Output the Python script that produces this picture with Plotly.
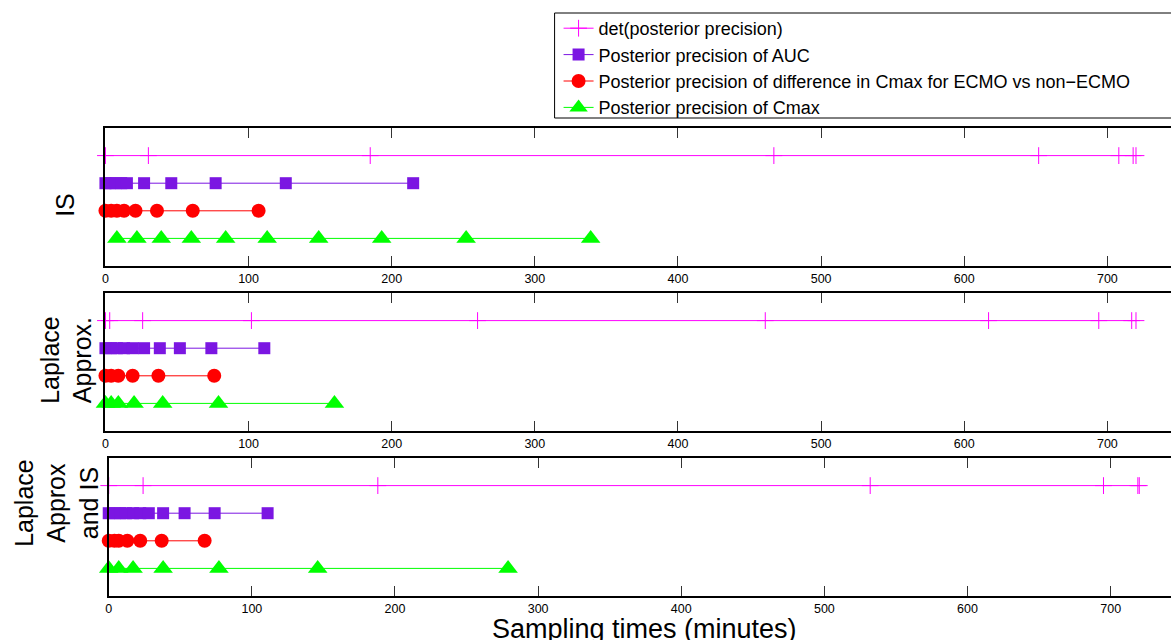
import plotly.graph_objects as go

# ---------------- data (sampling times, minutes) ----------------
series_names = [
    "det(posterior precision)",
    "Posterior precision of AUC",
    "Posterior precision of difference in Cmax for ECMO vs non\u2212ECMO",
    "Posterior precision of Cmax",
]
series_rows = [4, 3, 2, 1]
panel_labels = ["IS", "Laplace<br>Approx.", "Laplace<br>Approx<br>and IS"]

det_is = [0, 30, 185, 467, 652, 708, 718, 720]
auc_is = [0, 3, 7, 11, 15, 27, 46, 77, 126, 215]
diff_is = [0, 4, 8, 13, 21, 36, 61, 107]
cmax_is = [8, 22, 39, 60, 84, 113, 149, 193, 252, 339]

det_la = [0, 3, 26, 102, 260, 461, 617, 694, 717, 720]
auc_la = [0, 4, 8, 13, 19, 27, 38, 52, 74, 111]
diff_la = [0, 4, 9, 19, 37, 76]
cmax_la = [0, 4, 9, 20, 40, 79, 160]

det_lais = [0, 24, 188, 532, 695, 719, 720]
auc_lais = [0, 4, 8, 12, 17, 22, 28, 38, 53, 74, 111]
diff_lais = [0, 4, 7, 13, 22, 37, 67]
cmax_lais = [0, 7, 17, 38, 77, 146, 279]

x_ticks = [0, 100, 200, 300, 400, 500, 600, 700]

panels = [
    [det_is, auc_is, diff_is, cmax_is],
    [det_la, auc_la, diff_la, cmax_la],
    [det_lais, auc_lais, diff_lais, cmax_lais],
]

# ---------------- styling ----------------
W, H = 1171, 640
colors = ["#FF00FF", "#7B16E2", "#FF0000", "#00FF00"]
symbols = ["cross-thin", "square", "circle", "triangle-up"]
msizes = [12, 12, 14, 17]
FONT = "Liberation Sans, Arial, Helvetica, sans-serif"

# panel pixel geometry (top, bottom, x of zero)
geom = [(128, 266, 102.7), (293, 431, 102.7), (458, 596, 106.0)]
px_per_min = 1.435

fig = go.Figure()

for p, series in enumerate(panels):
    xa = "x" if p == 0 else f"x{p+1}"
    ya = "y" if p == 0 else f"y{p+1}"
    for s, xs in enumerate(series):
        sym = symbols[s]
        marker = dict(symbol=sym, size=msizes[s], color=colors[s])
        if sym == "cross-thin":
            marker["line"] = dict(color=colors[s], width=1)
        else:
            marker["line"] = dict(width=0)
        fig.add_trace(go.Scatter(
            x=xs, y=[series_rows[s]] * len(xs),
            mode="lines+markers",
            line=dict(color=colors[s], width=1),
            marker=marker,
            name=series_names[s],
            legendgroup=f"g{s}",
            showlegend=(p == 0),
            cliponaxis=False,
            xaxis=xa, yaxis=ya,
            hoverinfo="skip",
        ))

layout = dict(
    width=W, height=H,
    margin=dict(l=0, r=0, t=0, b=0),
    paper_bgcolor="white", plot_bgcolor="white",
    font=dict(family=FONT, color="black"),
    showlegend=True,
    legend=dict(
        x=557 / W, y=1 - 10 / H, xanchor="left", yanchor="top",
        bgcolor="rgba(0,0,0,0)", borderwidth=0,
        font=dict(size=18, family=FONT, color="black"),
        tracegroupgap=0, itemwidth=30,
    ),
)

for p, (top, bot, x0) in enumerate(geom):
    xk = "xaxis" if p == 0 else f"xaxis{p+1}"
    yk = "yaxis" if p == 0 else f"yaxis{p+1}"
    ya = "y" if p == 0 else f"y{p+1}"
    xa = "x" if p == 0 else f"x{p+1}"
    layout[xk] = dict(
        domain=[x0 / W, 1.0], range=[0, (W - x0) / px_per_min],
        anchor=ya, tickvals=x_ticks, ticks="inside", ticklen=10,
        tickcolor="#333333", tickwidth=1,
        showline=True, linecolor="black", linewidth=1.5, mirror="ticks",
        showgrid=False, zeroline=False,
        tickfont=dict(size=12.5, family=FONT, color="black"),
    )
    layout[yk] = dict(
        domain=[1 - bot / H, 1 - top / H], range=[0, 5], anchor=xa,
        showticklabels=False, ticks="", showgrid=False, zeroline=False,
        showline=True, linecolor="black", linewidth=1.5, mirror=False,
    )

fig.update_layout(**layout)

# legend box (extends past right edge as in the reference)
fig.add_shape(type="rect", xref="paper", yref="paper",
              x0=553 / W, x1=1.02, y0=1 - 118 / H, y1=1 - 13 / H,
              line=dict(color="black", width=1), fillcolor="rgba(0,0,0,0)",
              layer="below")

# panel labels
label_pos = [(62, 205), (63, 360), (53, 503)]
for (lx, ly), txt in zip(label_pos, panel_labels):
    fig.add_annotation(text=txt, x=lx / W, y=1 - ly / H, xref="paper", yref="paper",
                       textangle=-90, showarrow=False, xanchor="center", yanchor="middle",
                       font=dict(size=25, family=FONT, color="black"))

# x-axis title
fig.add_annotation(text="Sampling times (minutes)", x=643 / W, y=1 - 629 / H,
                   xref="paper", yref="paper", showarrow=False,
                   xanchor="center", yanchor="middle",
                   font=dict(size=27, family=FONT, color="black"))

fig.write_html("out.html")
